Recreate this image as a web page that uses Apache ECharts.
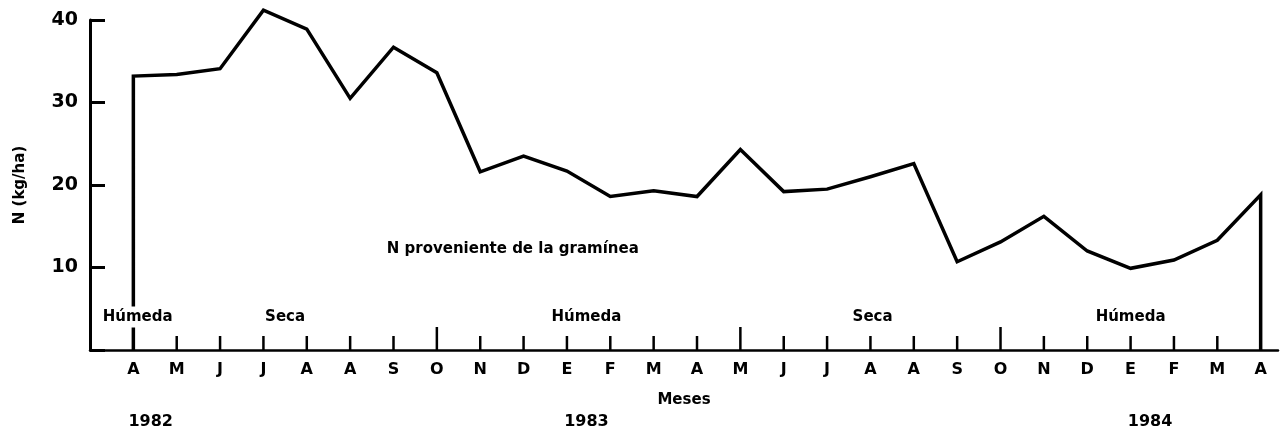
<!DOCTYPE html>
<html>
<head>
<meta charset="utf-8">
<script src="https://cdn.jsdelivr.net/npm/echarts@6/dist/echarts.min.js"></script>
<style>
html,body{margin:0;padding:0;background:#fff;}
#chart{width:1281px;height:431px;}
</style>
</head>
<body>
<div id="chart"></div>
<script>
// ---- data ----
var months = ['A','M','J','J','A','A','S','O','N','D','E','F','M','A','M','J','J','A','A','S','O','N','D','E','F','M','A'];
var nValues = [33.2, 33.4, 34.1, 41.2, 38.9, 30.5, 36.7, 33.6, 21.6, 23.5, 21.7, 18.6, 19.3, 18.6, 24.3, 19.2, 19.5, 21.0, 22.6, 10.7, 13.1, 16.2, 12.0, 9.9, 10.9, 13.3, 18.8];
var seasonBreaks = [7, 14, 20];
var seasonNames = ['Húmeda', 'Seca', 'Húmeda', 'Seca', 'Húmeda'];
var seasonCenters = [0.1, 3.5, 10.45, 17.05, 23.0];
var yearNames = ['1982', '1983', '1984'];
var yearCenters = [0.4, 10.45, 23.45];
var noteText = 'N proveniente de la gramínea';
var notePos = [8.75, 12.2];
var yTicks = [0, 10, 20, 30, 40];

// ---- build ----
var FONT = 'DejaVu Sans';
var lineData = [[0, 0]].concat(nValues.map(function (v, i) { return [i, v]; })).concat([[nValues.length - 1, 0]]);
var tickData = months.map(function (m, i) { return [i, 0]; });
var textItems = [];
seasonNames.forEach(function (s, i) { textItems.push({ value: [seasonCenters[i], 0], txt: s, kind: 'season' }); });
yearNames.forEach(function (s, i) { textItems.push({ value: [yearCenters[i], 0], txt: s, kind: 'year' }); });
textItems.push({ value: notePos, txt: noteText, kind: 'note' });

var chart = echarts.init(document.getElementById('chart'), null, { renderer: 'canvas' });
chart.setOption({
  animation: false,
  backgroundColor: '#fff',
  grid: { left: 90, right: 1, top: 20, bottom: 81, containLabel: false },
  xAxis: {
    type: 'value', min: -1, max: 26.4, interval: 1,
    name: 'Meses', nameLocation: 'middle', nameGap: 43,
    nameTextStyle: { fontFamily: FONT, fontWeight: 'bold', fontSize: 15, color: '#000' },
    axisLine: { show: true, onZero: false, lineStyle: { color: '#000', width: 2.5 } },
    axisTick: { show: false },
    splitLine: { show: false },
    axisLabel: {
      margin: 12, color: '#000', fontFamily: FONT, fontWeight: 'bold', fontSize: 16,
      showMinLabel: true, showMaxLabel: true,
      formatter: function (v) {
        var r = Math.round(v);
        return (Math.abs(v - r) < 1e-6 && r >= 0 && r < months.length) ? months[r] : '';
      }
    }
  },
  yAxis: {
    type: 'value', min: yTicks[0], max: yTicks[yTicks.length - 1], interval: 10,
    name: 'N (kg/ha)', nameLocation: 'middle', nameGap: 62, nameRotate: 90,
    nameTextStyle: { fontFamily: FONT, fontWeight: 'bold', fontSize: 15, color: '#000' },
    axisLine: { show: true, onZero: false, lineStyle: { color: '#000', width: 3 } },
    axisTick: { show: true, inside: true, length: 15, lineStyle: { color: '#000', width: 3 } },
    splitLine: { show: false },
    axisLabel: {
      margin: 12, color: '#000', fontFamily: FONT, fontWeight: 'bold', fontSize: 19,
      formatter: function (v) { return v === 0 ? '' : String(v); }
    }
  },
  series: [
    {
      type: 'line', data: lineData, symbol: 'none', z: 3, clip: false,
      lineStyle: { color: '#000', width: 3.5, join: 'miter' }
    },
    {
      type: 'custom', data: tickData, clip: false, z: 4, silent: true,
      renderItem: function (params, api) {
        var x = api.value(0);
        var p = api.coord([x, 0]);
        var len = seasonBreaks.indexOf(x) >= 0 ? 23 : 14;
        return { type: 'line', shape: { x1: p[0], y1: p[1], x2: p[0], y2: p[1] - len }, style: { stroke: '#000', lineWidth: 2.5 } };
      }
    },
    {
      type: 'custom', data: textItems, clip: false, z: 10, silent: true,
      renderItem: function (params, api) {
        var item = textItems[params.dataIndex];
        var p = api.coord([api.value(0), api.value(1)]);
        var y = p[1];
        var size = 15;
        if (item.kind === 'season') { y = p[1] - 33; }
        else if (item.kind === 'year') { y = p[1] + 72; size = 16; }
        return {
          type: 'text', x: p[0], y: y,
          style: {
            text: item.txt, fill: '#000', align: 'center', verticalAlign: 'middle',
            font: 'bold ' + size + 'px "' + FONT + '"',
            backgroundColor: item.kind === 'season' ? '#fff' : null,
            padding: item.kind === 'season' ? [3, 2] : 0
          }
        };
      }
    }
  ]
});
</script>
</body>
</html>
